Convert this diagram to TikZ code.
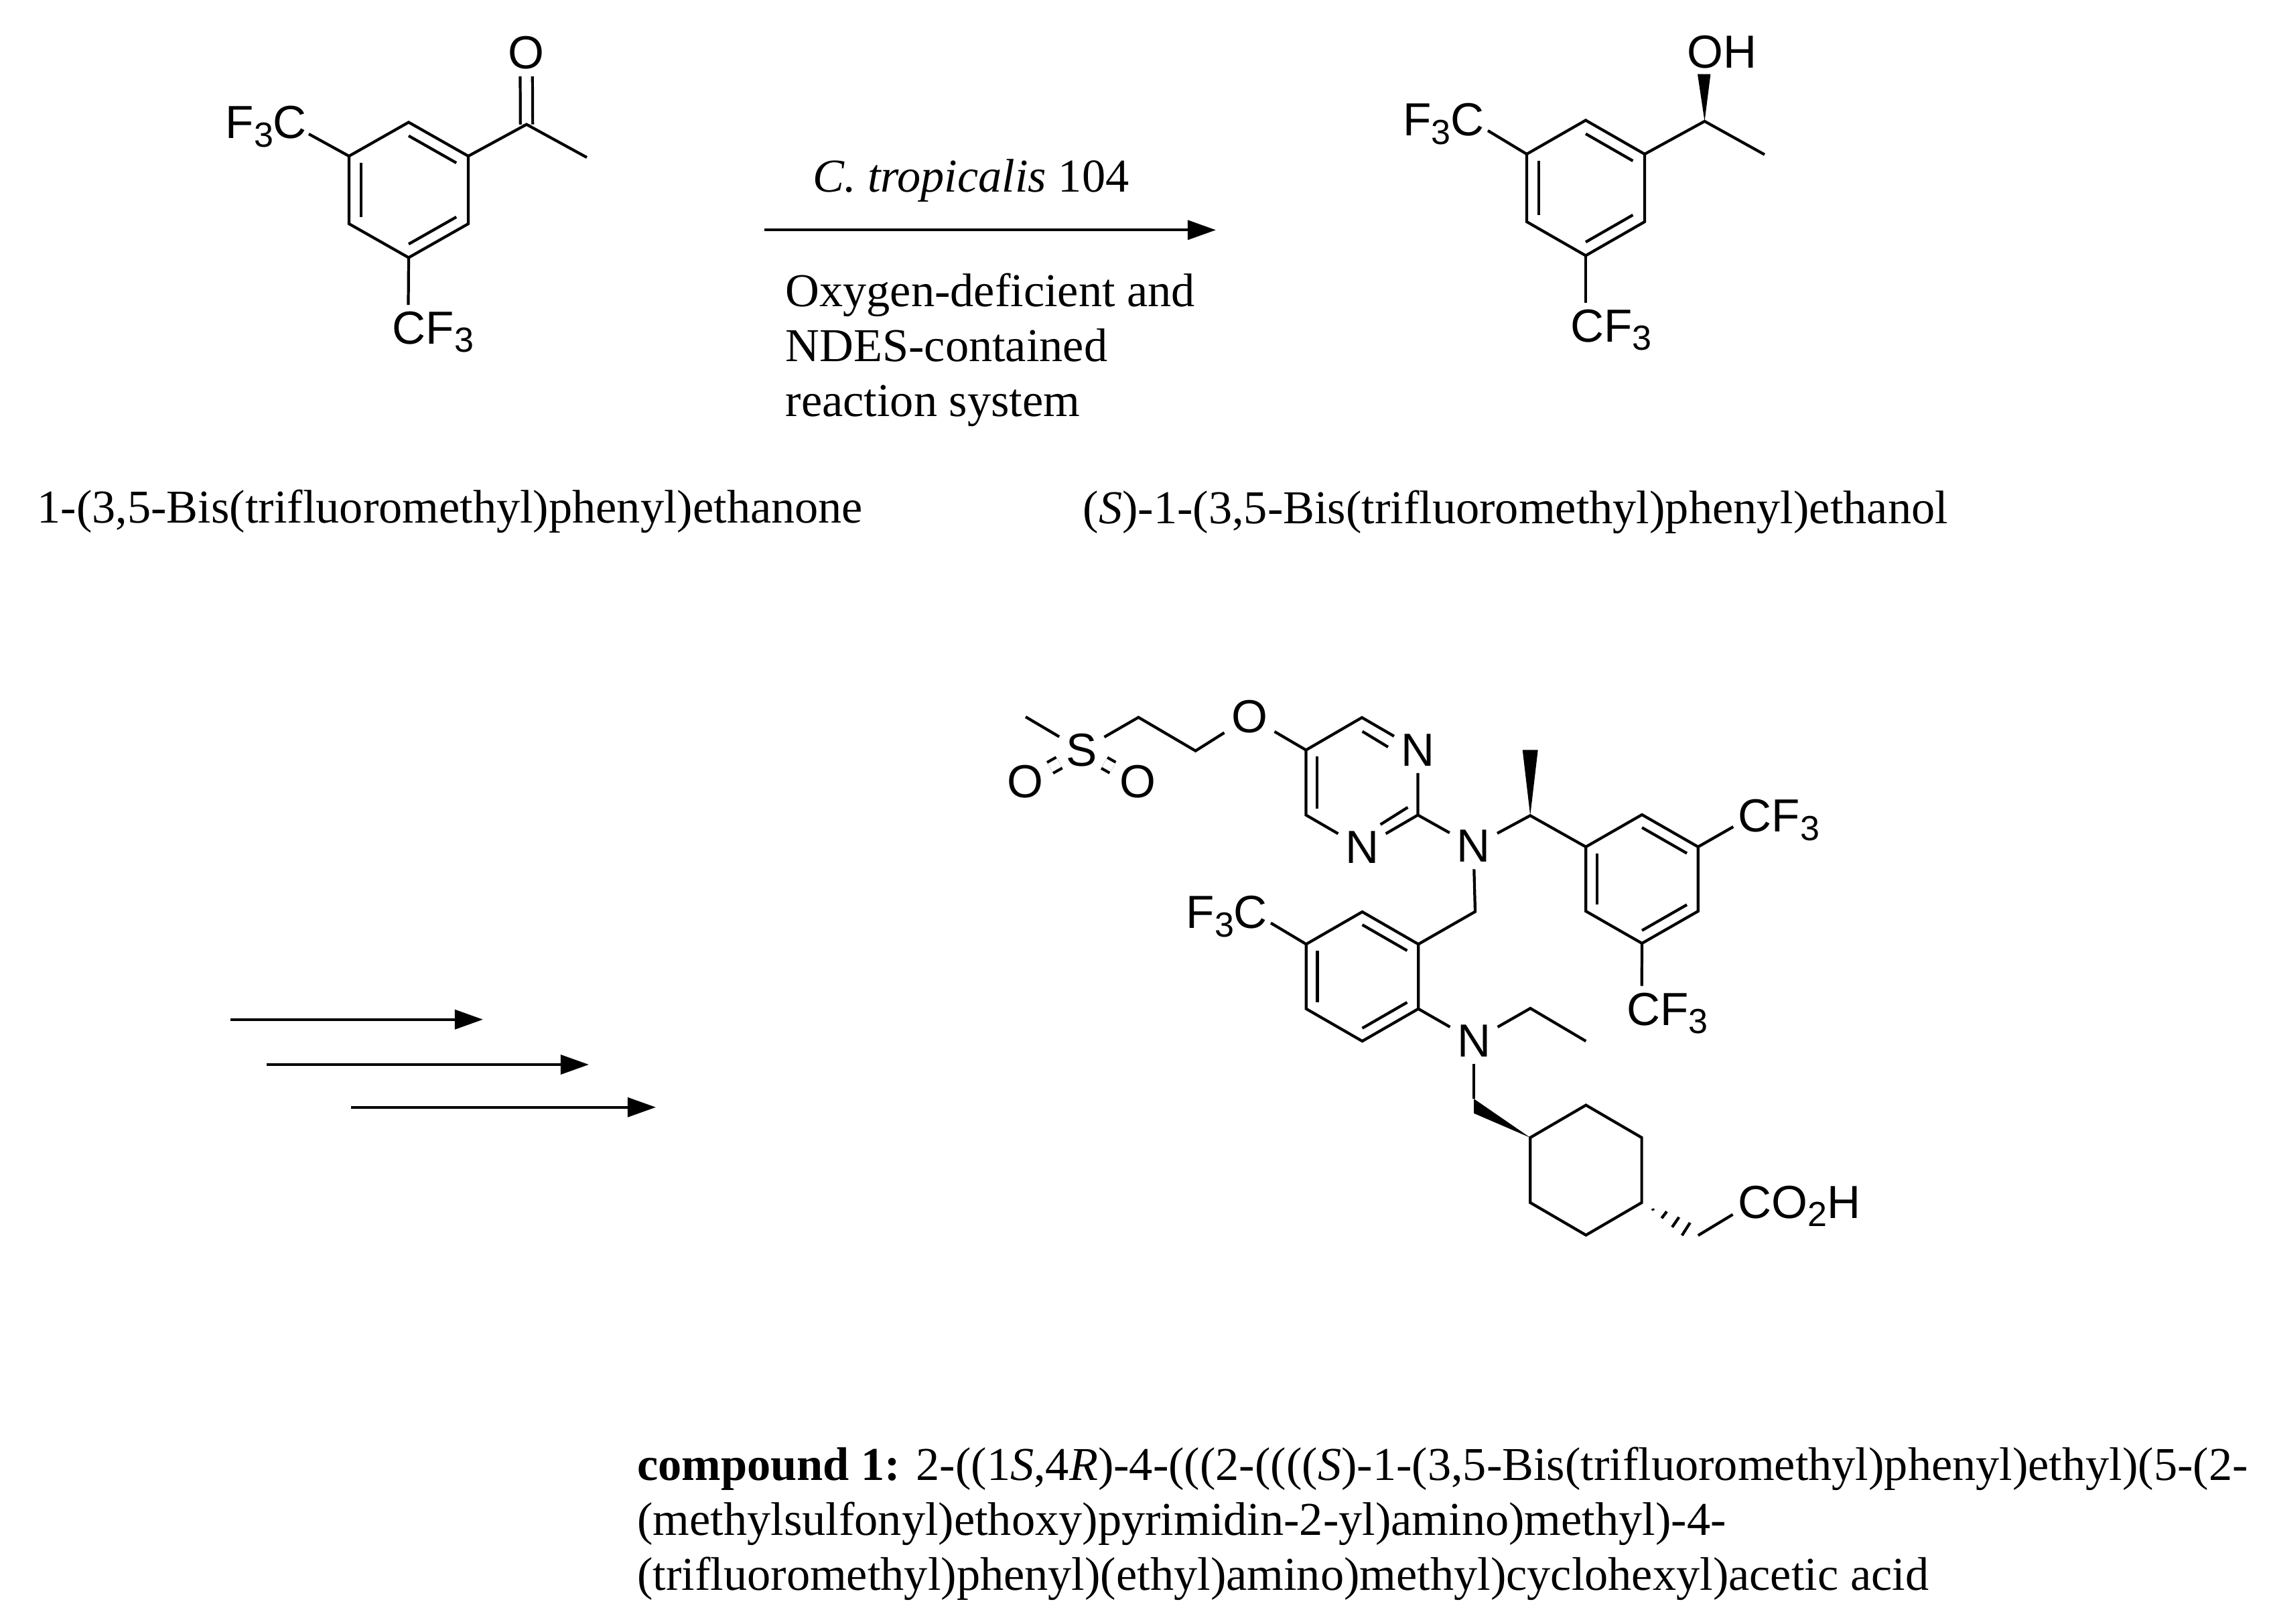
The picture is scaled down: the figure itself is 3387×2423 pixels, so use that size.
\documentclass[tikz,border=0pt]{standalone}
\usepackage{fontspec}
\setmainfont{Liberation Serif}
\newfontfamily\atomfont{Liberation Sans}
\usetikzlibrary{calc,arrows.meta}
\newcommand{\atomsub}[1]{\raisebox{-.18em}{\fontsize{14.8}{16}\selectfont #1}}
\tikzset{
    bond/.style={line width=1.2pt},
    dbl/.style={line width=1.2pt,double,double distance=4pt},
    rxn/.style={line width=1.2pt,-{Triangle[length=12pt,width=8.2pt]}},
    atom/.style={font=\atomfont\fontsize{19.7}{24}\selectfont,inner sep=2.8pt},
    grp/.style={font=\atomfont\fontsize{19.7}{24}\selectfont,inner sep=0pt,anchor=base west},
    txt/.style={font=\fontsize{20}{23.3}\selectfont,inner sep=0pt,anchor=base west},
    para/.style={font=\fontsize{20}{23.3}\selectfont,inner sep=0pt,anchor=north west,align=left}
}

\begin{document}
\begin{tikzpicture}[x=0.01cm,y=-0.01cm]
\useasboundingbox (0,0) rectangle (3387,2423);

% ring vertices: 1 top, then clockwise
\foreach \r/\cx/\cy/\w/\h in {k/610/283.5/89/101,a/2367/280.5/88/101,b/2033.5/1457.5/83.7/96.5,c/2451/1312/83.8/96,y/2367.4/1746.5/83.2/97,p/2033/1168/83.5/97}{
  \coordinate (\r c) at (\cx,\cy);
  \coordinate (\r1) at (\cx,\cy-\h);
  \coordinate (\r2) at (\cx+\w,\cy-\h/2);
  \coordinate (\r3) at (\cx+\w,\cy+\h/2);
  \coordinate (\r4) at (\cx,\cy+\h);
  \coordinate (\r5) at (\cx-\w,\cy+\h/2);
  \coordinate (\r6) at (\cx-\w,\cy-\h/2);
}
\foreach \r in {k,a,b,c}{
  \draw[bond] (\r1)--(\r2)--(\r3)--(\r4)--(\r5)--(\r6)--cycle;
  \draw[bond] ($(\r1)!.2!(\r c)$)--($(\r2)!.2!(\r c)$);
  \draw[bond] ($(\r3)!.2!(\r c)$)--($(\r4)!.2!(\r c)$);
  \draw[bond] ($(\r5)!.2!(\r c)$)--($(\r6)!.2!(\r c)$);
}

% ketone
\node[atom] (kO) at (785.5,79) {O};
\coordinate (kC) at (786,185.7);
\coordinate (kMe) at (876,235);
\coordinate (kfa) at (461,200);
\coordinate (kfb) at (609.5,455);
\draw[dbl] (kC)--(kO);
\draw[bond] (k2)--(kC)--(kMe);
\node[grp] (kFl) at (336,206.7) {F\atomsub{3}C};
\node[grp] (kFr) at (585,513) {CF\atomsub{3}};
\draw[bond] (k6)--(kfa);
\draw[bond] (k4)--(kfb);

% alcohol
\coordinate (aC) at (2544.5,181);
\coordinate (aMe) at (2634,230.7);
\coordinate (aWl) at (2534,110.7);
\coordinate (aWr) at (2553.4,110.7);
\coordinate (afa) at (2221,195);
\coordinate (afb) at (2367,451.7);
\fill (aC)--(aWl)--(aWr)--cycle;
\draw[bond] (a2)--(aC)--(aMe);
\node[grp] (aOH) at (2518,101) {OH};
\node[grp] (aFl) at (2093.6,202.7) {F\atomsub{3}C};
\node[grp] (aFr) at (2343.6,510) {CF\atomsub{3}};
\draw[bond] (a6)--(afa);
\draw[bond] (a4)--(afb);

% arrows
\foreach \n/\xa/\xb/\yy in {m/1141/1815/343.3,r/344/721/1521.7,s/398/879/1589,t/524/979/1652.7}{
  \coordinate (\n s) at (\xa,\yy);
  \coordinate (\n e) at (\xb,\yy);
  \draw[rxn] (\n s)--(\n e);
}

% sulfonyl chain
\node[atom] (S) at (1614.8,1119.5) {S};
\node[atom] (sOl) at (1530,1167) {O};
\node[atom] (sOr) at (1698.4,1167) {O};
\node[atom] (eO) at (1865,1070) {O};
\coordinate (sMe) at (1531,1070);
\coordinate (ch1) at (1699.4,1070.7);
\coordinate (ch2) at (1784.6,1120.7);
\draw[dbl] (S)--(sOl);
\draw[dbl] (S)--(sOr);
\draw[bond] (sMe)--(S);
\draw[bond] (S)--(ch1)--(ch2)--(eO);
\draw[bond] (eO)--(p6);

% pyrimidine
\node[atom] (nT) at (p2) {N};
\node[atom] (nB) at (p4) {N};
\node[atom] (nA) at (2199.4,1263) {N};
\coordinate (pi1) at (2033.6,1091.7);
\coordinate (pi2) at (2072,1115);
\coordinate (pi3) at (2101.4,1205);
\coordinate (pi4) at (2060.6,1230.7);
\draw[bond] (nT)--(p1)--(p6)--(p5)--(nB);
\draw[bond] (nT)--(p3)--(nB);
\draw[bond] (pi1)--(pi2);
\draw[bond] (pi3)--(pi4);
\draw[bond] ($(p5)!.2!(pc)$)--($(p6)!.2!(pc)$);
\draw[bond] (p3)--(nA);

% chiral centre and bis-CF3 ring
\coordinate (cC) at (2284.2,1217.3);
\coordinate (cWl) at (2272.7,1119.3);
\coordinate (cWr) at (2295.7,1119.3);
\coordinate (cfa) at (2587.3,1234);
\coordinate (cfb) at (2450.7,1471.7);
\fill (cC)--(cWl)--(cWr)--cycle;
\draw[bond] (nA)--(cC)--(c6);
\draw[bond] (c2)--(cfa);
\draw[bond] (c4)--(cfb);
\node[grp] (cFt) at (2594,1241.7) {CF\atomsub{3}};
\node[grp] (cFb) at (2427.7,1530) {CF\atomsub{3}};

% benzyl ring
\coordinate (bCH) at (2202,1360.7);
\coordinate (bfa) at (1897,1377.7);
\draw[bond] (nA)--(bCH)--(b2);
\draw[bond] (b6)--(bfa);
\node[grp] (bFl) at (1770,1385.7) {F\atomsub{3}C};

% N-ethyl and cyclohexane
\node[atom] (nE) at (2200,1553.3) {N};
\coordinate (et1) at (2284.4,1505);
\coordinate (et2) at (2367.3,1554);
\coordinate (wT) at (2200,1640);
\coordinate (wB) at (2200,1661.7);
\draw[bond] (b3)--(nE);
\draw[bond] (nE)--(et1)--(et2);
\draw[bond] (nE)--(wT);
\fill (wT)--(y6)--(wB)--cycle;
\draw[bond] (y1)--(y2)--(y3)--(y4)--(y5)--(y6)--cycle;

% hashed bond and acid
\foreach \i/\xa/\ya/\xb/\yb in {1/2467/1804/2467.9/1806.7,2/2488/1808.3/2480.4/1818.3,3/2506.3/1816.7/2496/1831.7,4/2522.8/1825/2510.7/1844}{
  \coordinate (hA\i) at (\xa,\ya);
  \coordinate (hB\i) at (\xb,\yb);
  \draw[bond] (hA\i)--(hB\i);
}
\coordinate (yCH) at (2534.8,1844);
\coordinate (yCO) at (2586.6,1812.7);
\draw[bond] (yCH)--(yCO);
\node[grp] (yAcid) at (2594,1818.3) {CO\atomsub{2}H};

% texts
\node[txt] (lblCat) at (1212.5,286.7) {\textit{C. tropicalis} 104};
\node[para] (lblCond) at (1172,407) {Oxygen-deficient and\\NDES-contained\\reaction system};
\node[txt] (lblKetone) at (54.9,780) {1-(3,5-Bis(trifluoromethyl)phenyl)ethanone};
\node[txt] (lblAlcohol) at (1616,781) {(\textit{S})-1-(3,5-Bis(trifluoromethyl)phenyl)ethanol};
\node[para] (lblCompound) at (950.7,2159.6) {\textbf{compound 1:} 2-((1\textit{S},4\textit{R})-4-(((2-((((\textit{S})-1-(3,5-Bis(trifluoromethyl)phenyl)ethyl)(5-(2-\\(methylsulfonyl)ethoxy)pyrimidin-2-yl)amino)methyl)-4-\\(trifluoromethyl)phenyl)(ethyl)amino)methyl)cyclohexyl)acetic acid};
\end{tikzpicture}
\end{document}
